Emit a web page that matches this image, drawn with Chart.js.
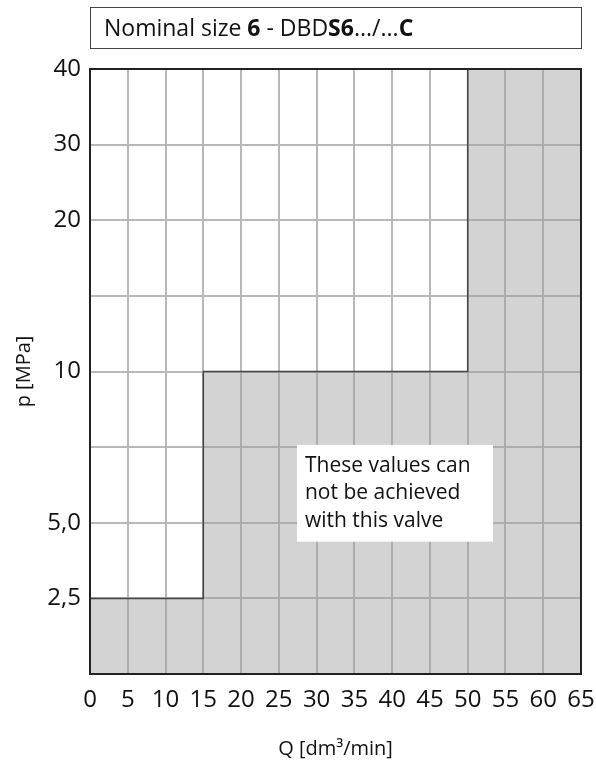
<!DOCTYPE html>
<html>
<head>
<meta charset="utf-8">
<script src="https://cdn.jsdelivr.net/npm/chart.js@4"></script>
<style>
  html, body { margin: 0; padding: 0; background: #fff; }
  #wrap { position: relative; width: 596px; height: 771px; }
  #title {
    position: absolute; left: 90px; top: 7px; width: 492px; height: 42px;
    border: 1.5px solid #444; box-sizing: border-box;
    font: 23px "Open Sans", sans-serif; color: #111;
    line-height: 39px; padding-left: 13px;
  }
  #title b { font-weight: 700; }
</style>
</head>
<body>
<div id="wrap">
  <canvas id="chart" width="596" height="771"></canvas>
  <div id="title">Nominal size <b>6</b> - DBD<b>S6</b>.../...<b>C</b></div>
</div>
<script>
(function(){
    // axis ticks
    const qTicks = [0, 5, 10, 15, 20, 25, 30, 35, 40, 45, 50, 55, 60, 65];
    const pRows = [0, 2.5, 5, 7.5, 10, 15, 20, 30, 40];          // pressure at each grid row
    const pLabels = ['', '2,5', '5,0', '', '10', '', '20', '30', '40'];

    // limit of the valve: Q [dm3/min] -> max p [MPa]
    const limitQ = [0, 15, 50, 65];
    const limitP = [2.5, 10, 40, 40];

    const note = ['These values can', 'not be achieved', 'with this valve'];

    // pressure -> row position on the y axis (axis is drawn row by row)
    function pToRow(p) {
        for (let i = 1; i < pRows.length; i++) {
            if (p <= pRows[i]) {
                return i - 1 + (p - pRows[i-1]) / (pRows[i] - pRows[i-1]);
            }
        }
        return pRows.length - 1;
    }

    const FONT = '"Open Sans", sans-serif';

    const notePlugin = {
        id: 'note',
        afterDatasetsDraw(chart) {
            const ctx = chart.ctx;
            const xs = chart.scales.x, ys = chart.scales.y;
            const x0 = xs.getPixelForValue(27.4), x1 = xs.getPixelForValue(53.35);
            const y0 = ys.getPixelForValue(3.03), y1 = ys.getPixelForValue(1.75);
            ctx.save();
            ctx.fillStyle = '#fff';
            ctx.fillRect(x0, y0, x1 - x0, y1 - y0);
            ctx.fillStyle = '#111';
            ctx.font = '21px ' + FONT;
            ctx.textBaseline = 'middle';
            note.forEach((t, i) => ctx.fillText(t, x0 + 8, y0 + 21 + i * 27.5));
            ctx.restore();
        }
    };

    new Chart(document.getElementById('chart'), {
        type: 'line',
        data: {
            datasets: [{
                data: limitQ.map((q, i) => ({ x: q, y: pToRow(limitP[i]) })),
                stepped: 'before',
                fill: 'start',
                backgroundColor: 'rgba(160,160,160,0.46)',
                borderColor: '#444',
                borderWidth: 1.5,
                pointRadius: 0
            }]
        },
        options: {
            responsive: false,
            animation: false,
            layout: { padding: { top: 69, right: 15, left: 0, bottom: 0 } },
            plugins: { legend: { display: false }, tooltip: { enabled: false } },
            scales: {
                x: {
                    type: 'linear', min: 0, max: 65,
                    afterBuildTicks: s => { s.ticks = qTicks.map(v => ({ value: v })); },
                    afterFit: s => { s.height = 97; s.paddingLeft = 0; s.paddingRight = 0; },
                    grid: { color: '#b8b8b8', lineWidth: 2, drawTicks: false },
                    border: { color: '#222', width: 2 },
                    ticks: { color: '#111', padding: 12, font: { family: FONT, size: 24 }, maxRotation: 0, autoSkip: false },
                    title: { display: true, text: 'Q [dm³/min]', color: '#111', font: { family: FONT, size: 20 }, padding: { bottom: 10 } }
                },
                y: {
                    type: 'linear', min: 0, max: pRows.length - 1,
                    afterBuildTicks: s => { s.ticks = pRows.map((p, i) => ({ value: i })); },
                    afterFit: s => { s.width = 90; s.paddingTop = 0; s.paddingBottom = 0; },
                    grid: { color: '#b8b8b8', lineWidth: 2, drawTicks: false },
                    border: { color: '#222', width: 2 },
                    ticks: { color: '#111', padding: 9, font: { family: FONT, size: 24 }, autoSkip: false,
                             callback: (v, i) => pLabels[i] },
                    title: { display: true, text: 'p [MPa]', color: '#111', font: { family: FONT, size: 20 }, padding: { top: 12 } }
                }
            }
        },
        plugins: [notePlugin, {
            // frame on top and right like the plot box
            id: 'frame',
            afterDraw(chart) {
                const { ctx, chartArea: a } = chart;
                ctx.save();
                ctx.strokeStyle = '#222';
                ctx.lineWidth = 2;
                ctx.strokeRect(a.left, a.top, a.right - a.left, a.bottom - a.top);
                ctx.restore();
            }
        }]
    });
})();
</script>
</body>
</html>
